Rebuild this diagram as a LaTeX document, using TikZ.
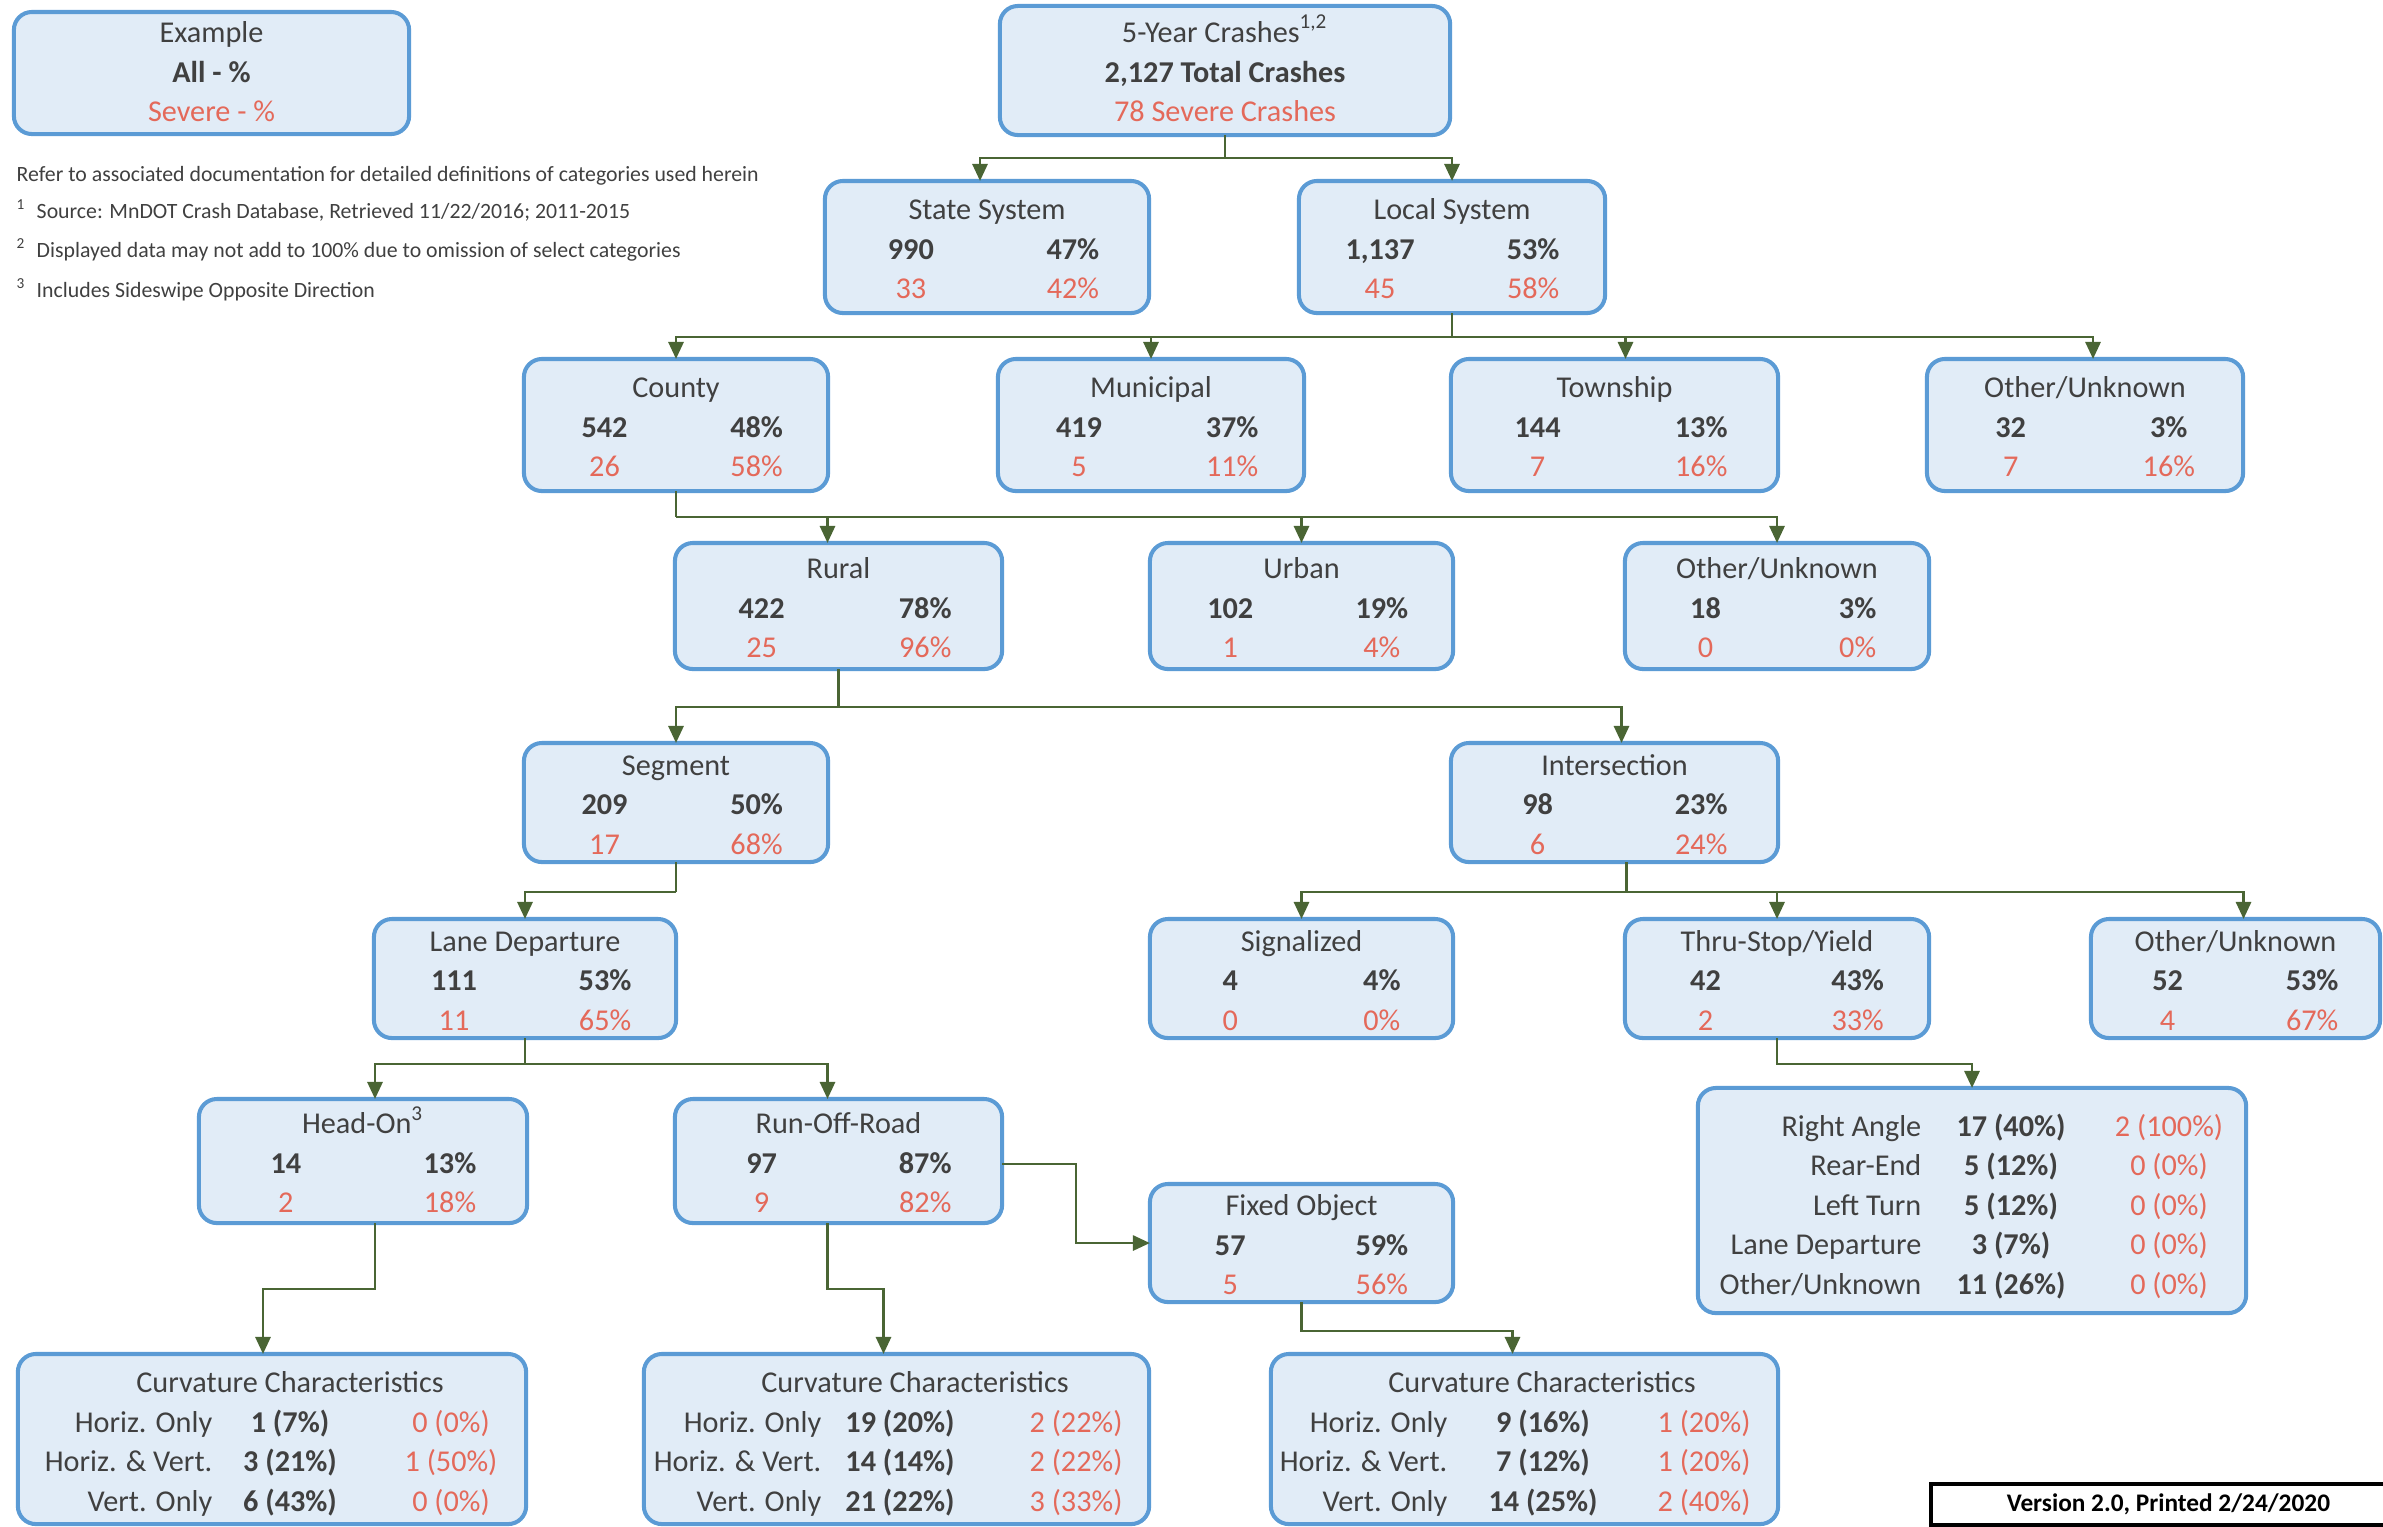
\documentclass[tikz,border=0pt]{standalone}
\usepackage{fontspec}
\setmainfont{Carlito}
\usetikzlibrary{arrows.meta,calc}

\definecolor{ink}{HTML}{404040}
\definecolor{sevred}{HTML}{E4695A}
\definecolor{boxfill}{HTML}{E1ECF7}
\definecolor{boxline}{HTML}{5B9BD5}
\definecolor{linkgreen}{HTML}{4A6534}

\newcommand\bx{\fontsize{8.6}{10}\selectfont}

\tikzset{
  cbox/.style={draw=boxline, fill=boxfill, line width=1.15pt,
    rounded corners=0.18cm, inner sep=0pt, outer sep=0pt},
  txt/.style={font=\bx, text=ink, inner sep=0pt, anchor=mid},
  bold/.style={font=\bx\bfseries},
  sev/.style={text=sevred},
  fn/.style={font=\fontsize{6.2}{7}\selectfont, text=ink, inner sep=0pt, anchor=mid west},
  wire/.style={draw=linkgreen, line width=0.8pt},
  arr/.style={wire, -{Triangle[width=0.15cm,length=0.17cm]}},
}

% category box: name, centre, width (cm), height (cm), title, count, share, severe count, severe share
\newcommand\catbox[9]{%
  \node[cbox, minimum width=#3cm, minimum height=#4cm] (#1) at (#2) {};
  \node[txt] (#1-t) at ($(#1.center)+(0,-35.5)$) {#5};
  \node[txt,bold] (#1-n) at ($(#1.west)!0.265!(#1.east)+(0,4)$) {#6};
  \node[txt,bold] (#1-p) at ($(#1.west)!0.765!(#1.east)+(0,4)$) {#7};
  \node[txt,sev] (#1-sn) at ($(#1.west)!0.265!(#1.east)+(0,43.5)$) {#8};
  \node[txt,sev] (#1-sp) at ($(#1.west)!0.765!(#1.east)+(0,43.5)$) {#9};
}

% table row: name, y, label x, label, middle x, middle, severe x, severe
\newcommand\trow[8]{%
  \node[txt,anchor=mid east] (#1-l) at (#3,#2) {#4};
  \node[txt,bold] (#1-m) at (#5,#2) {#6};
  \node[txt,sev] (#1-r) at (#7,#2) {#8};
}

\begin{document}
\begin{tikzpicture}[x=0.01cm,y=-0.01cm]
\useasboundingbox (0,0) rectangle (2383,1526);

% legend box
\node[cbox, minimum width=3.95cm, minimum height=1.22cm] (ex) at (211.5,73) {};
\node[txt] (ex-1) at (211.5,34) {Example};
\node[txt,bold] (ex-2) at (211.5,74) {All - \%};
\node[txt,sev] (ex-3) at (211.5,113) {Severe - \%};

% notes
\node[fn] (note0) at (16,173) {Refer to associated documentation for detailed definitions of categories used herein};
\node[fn] (note1) at (16,210) {\textsuperscript{1}\hspace{3pt}Source: MnDOT Crash Database, Retrieved 11/22/2016; 2011-2015};
\node[fn] (note2) at (16,249) {\textsuperscript{2}\hspace{3pt}Displayed data may not add to 100\% due to omission of select categories};
\node[fn] (note3) at (16,289) {\textsuperscript{3}\hspace{3pt}Includes Sideswipe Opposite Direction};

% root
\node[cbox, minimum width=4.50cm, minimum height=1.29cm] (yr) at (1225,70.5) {};
\node[txt] (yr-1) at (1225,34) {5-Year Crashes\textsuperscript{1,2}};
\node[txt,bold] (yr-2) at (1225,74) {2,127 Total Crashes};
\node[txt,sev] (yr-3) at (1225,113) {78 Severe Crashes};

% systems
\catbox{state}{987,247}{3.24}{1.32}{State System}{990}{47\%}{33}{42\%}
\catbox{local}{1452,247}{3.06}{1.32}{Local System}{1,137}{53\%}{45}{58\%}

% jurisdictions
\catbox{county}{676,425}{3.04}{1.32}{County}{542}{48\%}{26}{58\%}
\catbox{muni}{1151,425}{3.06}{1.32}{Municipal}{419}{37\%}{5}{11\%}
\catbox{town}{1614.5,425}{3.27}{1.32}{Township}{144}{13\%}{7}{16\%}
\catbox{othj}{2085,425}{3.16}{1.32}{Other/Unknown}{32}{3\%}{7}{16\%}

% area type
\catbox{rural}{838.5,606}{3.27}{1.26}{Rural}{422}{78\%}{25}{96\%}
\catbox{urban}{1301.5,606}{3.03}{1.26}{Urban}{102}{19\%}{1}{4\%}
\catbox{otha}{1777,606}{3.04}{1.26}{Other/Unknown}{18}{3\%}{0}{0\%}

% location
\catbox{seg}{676,802.5}{3.04}{1.19}{Segment}{209}{50\%}{17}{68\%}
\catbox{inter}{1614.5,802.5}{3.27}{1.19}{Intersection}{98}{23\%}{6}{24\%}

% crash groups
\catbox{lane}{525,978.5}{3.02}{1.19}{Lane Departure}{111}{53\%}{11}{65\%}
\catbox{sig}{1301.5,978.5}{3.03}{1.19}{Signalized}{4}{4\%}{0}{0\%}
\catbox{thru}{1777,978.5}{3.04}{1.19}{Thru-Stop/Yield}{42}{43\%}{2}{33\%}
\catbox{othc}{2235.5,978.5}{2.89}{1.19}{Other/Unknown}{52}{53\%}{4}{67\%}

\catbox{head}{363,1161}{3.28}{1.24}{Head-On\textsuperscript{3}}{14}{13\%}{2}{18\%}
\catbox{roff}{838.5,1161}{3.27}{1.24}{Run-Off-Road}{97}{87\%}{9}{82\%}
\catbox{fixed}{1301.5,1243}{3.03}{1.18}{Fixed Object}{57}{59\%}{5}{56\%}

% thru-stop/yield crash types
\node[cbox, minimum width=5.48cm, minimum height=2.25cm] (ra) at (1972,1200.5) {};
\trow{ra1}{1128}{1922}{Right Angle}{2011}{17 (40\%)}{2169}{2 (100\%)}
\trow{ra2}{1167.5}{1922}{Rear-End}{2011}{5 (12\%)}{2169}{0 (0\%)}
\trow{ra3}{1207}{1922}{Left Turn}{2011}{5 (12\%)}{2169}{0 (0\%)}
\trow{ra4}{1246.5}{1922}{Lane Departure}{2011}{3 (7\%)}{2169}{0 (0\%)}
\trow{ra5}{1286}{1922}{Other/Unknown}{2011}{11 (26\%)}{2169}{0 (0\%)}

% curvature tables
\node[cbox, minimum width=5.08cm, minimum height=1.70cm] (cv1) at (272,1439) {};
\node[txt] (cv1-t) at (290,1384.5) {Curvature Characteristics};
\trow{cv1a}{1424}{213}{Horiz. Only}{290}{1 (7\%)}{451}{0 (0\%)}
\trow{cv1b}{1463.5}{213}{Horiz. \& Vert.}{290}{3 (21\%)}{451}{1 (50\%)}
\trow{cv1c}{1503}{213}{Vert. Only}{290}{6 (43\%)}{451}{0 (0\%)}

\node[cbox, minimum width=5.05cm, minimum height=1.70cm] (cv2) at (896.5,1439) {};
\node[txt] (cv2-t) at (915,1384.5) {Curvature Characteristics};
\trow{cv2a}{1424}{822}{Horiz. Only}{900}{19 (20\%)}{1076}{2 (22\%)}
\trow{cv2b}{1463.5}{822}{Horiz. \& Vert.}{900}{14 (14\%)}{1076}{2 (22\%)}
\trow{cv2c}{1503}{822}{Vert. Only}{900}{21 (22\%)}{1076}{3 (33\%)}

\node[cbox, minimum width=5.07cm, minimum height=1.70cm] (cv3) at (1524.5,1439) {};
\node[txt] (cv3-t) at (1542,1384.5) {Curvature Characteristics};
\trow{cv3a}{1424}{1448}{Horiz. Only}{1543}{9 (16\%)}{1704}{1 (20\%)}
\trow{cv3b}{1463.5}{1448}{Horiz. \& Vert.}{1543}{7 (12\%)}{1704}{1 (20\%)}
\trow{cv3c}{1503}{1448}{Vert. Only}{1543}{14 (25\%)}{1704}{2 (40\%)}

% version stamp
\node[draw=black, line width=1pt, inner sep=0pt, anchor=north west,
  minimum width=4.75cm, minimum height=0.41cm,
  font=\fontsize{7.2}{8}\selectfont\bfseries] (ver) at (1929,1482) {Version 2.0, Printed 2/24/2020};

% connectors
\coordinate (j1) at ($(yr.south)+(0,23)$);
\draw[wire] (yr.south) -- (j1);
\draw[arr] (j1) -| ($(state.north)+(-7,0)$);
\draw[arr] (j1) -| (local.north);

\coordinate (j2) at ($(local.south)+(0,24)$);
\draw[wire] (local.south) -- (j2);
\draw[arr] (j2) -| (county.north);
\draw[arr] (j2) -| (muni.north);
\draw[arr] (j2) -| ($(town.north)+(11,0)$);
\draw[arr] (j2) -| ($(othj.north)+(8,0)$);

\coordinate (j3) at ($(county.south)+(0,26)$);
\draw[wire] (county.south) -- (j3);
\draw[arr] (j3) -| ($(rural.north)+(-11,0)$);
\draw[arr] (j3) -| (urban.north);
\draw[arr] (j3) -| (otha.north);

\coordinate (j4) at ($(rural.south)+(0,38)$);
\draw[wire] (rural.south) -- (j4);
\draw[arr] (j4) -| (seg.north);
\draw[arr] (j4) -| ($(inter.north)+(7,0)$);

\coordinate (j5) at ($(seg.south)+(0,30)$);
\draw[wire] (seg.south) -- (j5);
\draw[arr] (j5) -| (lane.north);

\coordinate (j6s) at ($(inter.south)+(12,0)$);
\coordinate (j6) at ($(j6s)+(0,30)$);
\draw[wire] (j6s) -- (j6);
\draw[arr] (j6) -| (sig.north);
\draw[arr] (j6) -| (thru.north);
\draw[arr] (j6) -| ($(othc.north)+(8,0)$);

\coordinate (j7) at ($(lane.south)+(0,26)$);
\draw[wire] (lane.south) -- (j7);
\draw[arr] (j7) -| ($(head.north)+(12,0)$);
\draw[arr] (j7) -| ($(roff.north)+(-11,0)$);

\coordinate (k1) at ($(roff.east)+(0,3)$);
\draw[arr] (k1) -| ($(fixed.west)+(-74,0)$) -- (fixed.west);

\coordinate (k2) at ($(head.south)+(12,0)$);
\draw[arr] (k2) -- ++(0,66) -| ($(cv1.north)+(-9,0)$);

\coordinate (k3) at ($(roff.south)+(-11,0)$);
\draw[arr] (k3) -- ++(0,66) -| ($(cv2.north)+(-13,0)$);

\draw[arr] (fixed.south) -- ++(0,29) -| ($(cv3.north)+(-12,0)$);

\draw[arr] (thru.south) -- ++(0,26) -| (ra.north);

\end{tikzpicture}
\end{document}
